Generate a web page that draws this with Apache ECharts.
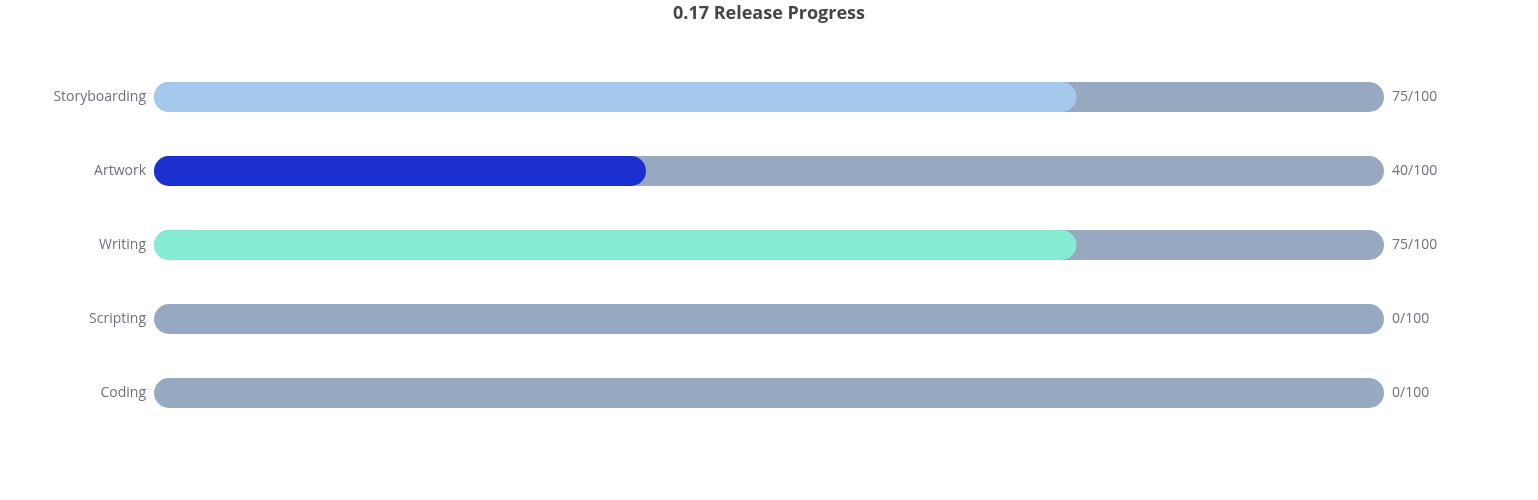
<!DOCTYPE html>
<html>
<head>
<meta charset="utf-8">
<script src="https://cdn.jsdelivr.net/npm/echarts@6/dist/echarts.min.js"></script>
<style>html,body{margin:0;padding:0;background:#fff}#c{width:1538px;height:500px}</style>
</head>
<body>
<div id="c"></div>
<script>
const categories = ['Storyboarding', 'Artwork', 'Writing', 'Scripting', 'Coding'];
const values = [75, 40, 75, 0, 0];
const totals = [100, 100, 100, 100, 100];
const colors = ['#a5c8ed', '#1c2fd0', '#86ecd4', '#97a8c1', '#97a8c1'];

const FONT = "'Open Sans', 'Noto Sans', sans-serif";
const chart = echarts.init(document.getElementById('c'));
chart.setOption({
  textStyle: { fontFamily: FONT },
  title: { text: '0.17 Release Progress', left: 'center', top: 0,
    textStyle: { fontSize: 18, fontWeight: 'bold', color: '#464646', fontFamily: FONT } },
  grid: { left: 154, right: 154, top: 60, bottom: 70 },
  xAxis: { type: 'value', min: 0, max: 100, show: false },
  yAxis: [
    { type: 'category', data: categories, inverse: true,
      axisLine: { show: false }, axisTick: { show: false },
      axisLabel: { color: '#6e7079', fontSize: 14, margin: 8, fontFamily: FONT } },
    { type: 'category', data: values.map((v, i) => v + '/' + totals[i]), inverse: true,
      position: 'right',
      axisLine: { show: false }, axisTick: { show: false },
      axisLabel: { color: '#6e7079', fontSize: 14, margin: 8, fontFamily: FONT } }
  ],
  series: [{
    type: 'bar',
    data: values.map((v, i) => ({ value: v, itemStyle: { color: colors[i] } })),
    barWidth: 30,
    showBackground: true,
    backgroundStyle: { color: '#97a8c1', borderRadius: 15 },
    itemStyle: { borderRadius: 15 }
  }]
});
</script>
</body>
</html>
